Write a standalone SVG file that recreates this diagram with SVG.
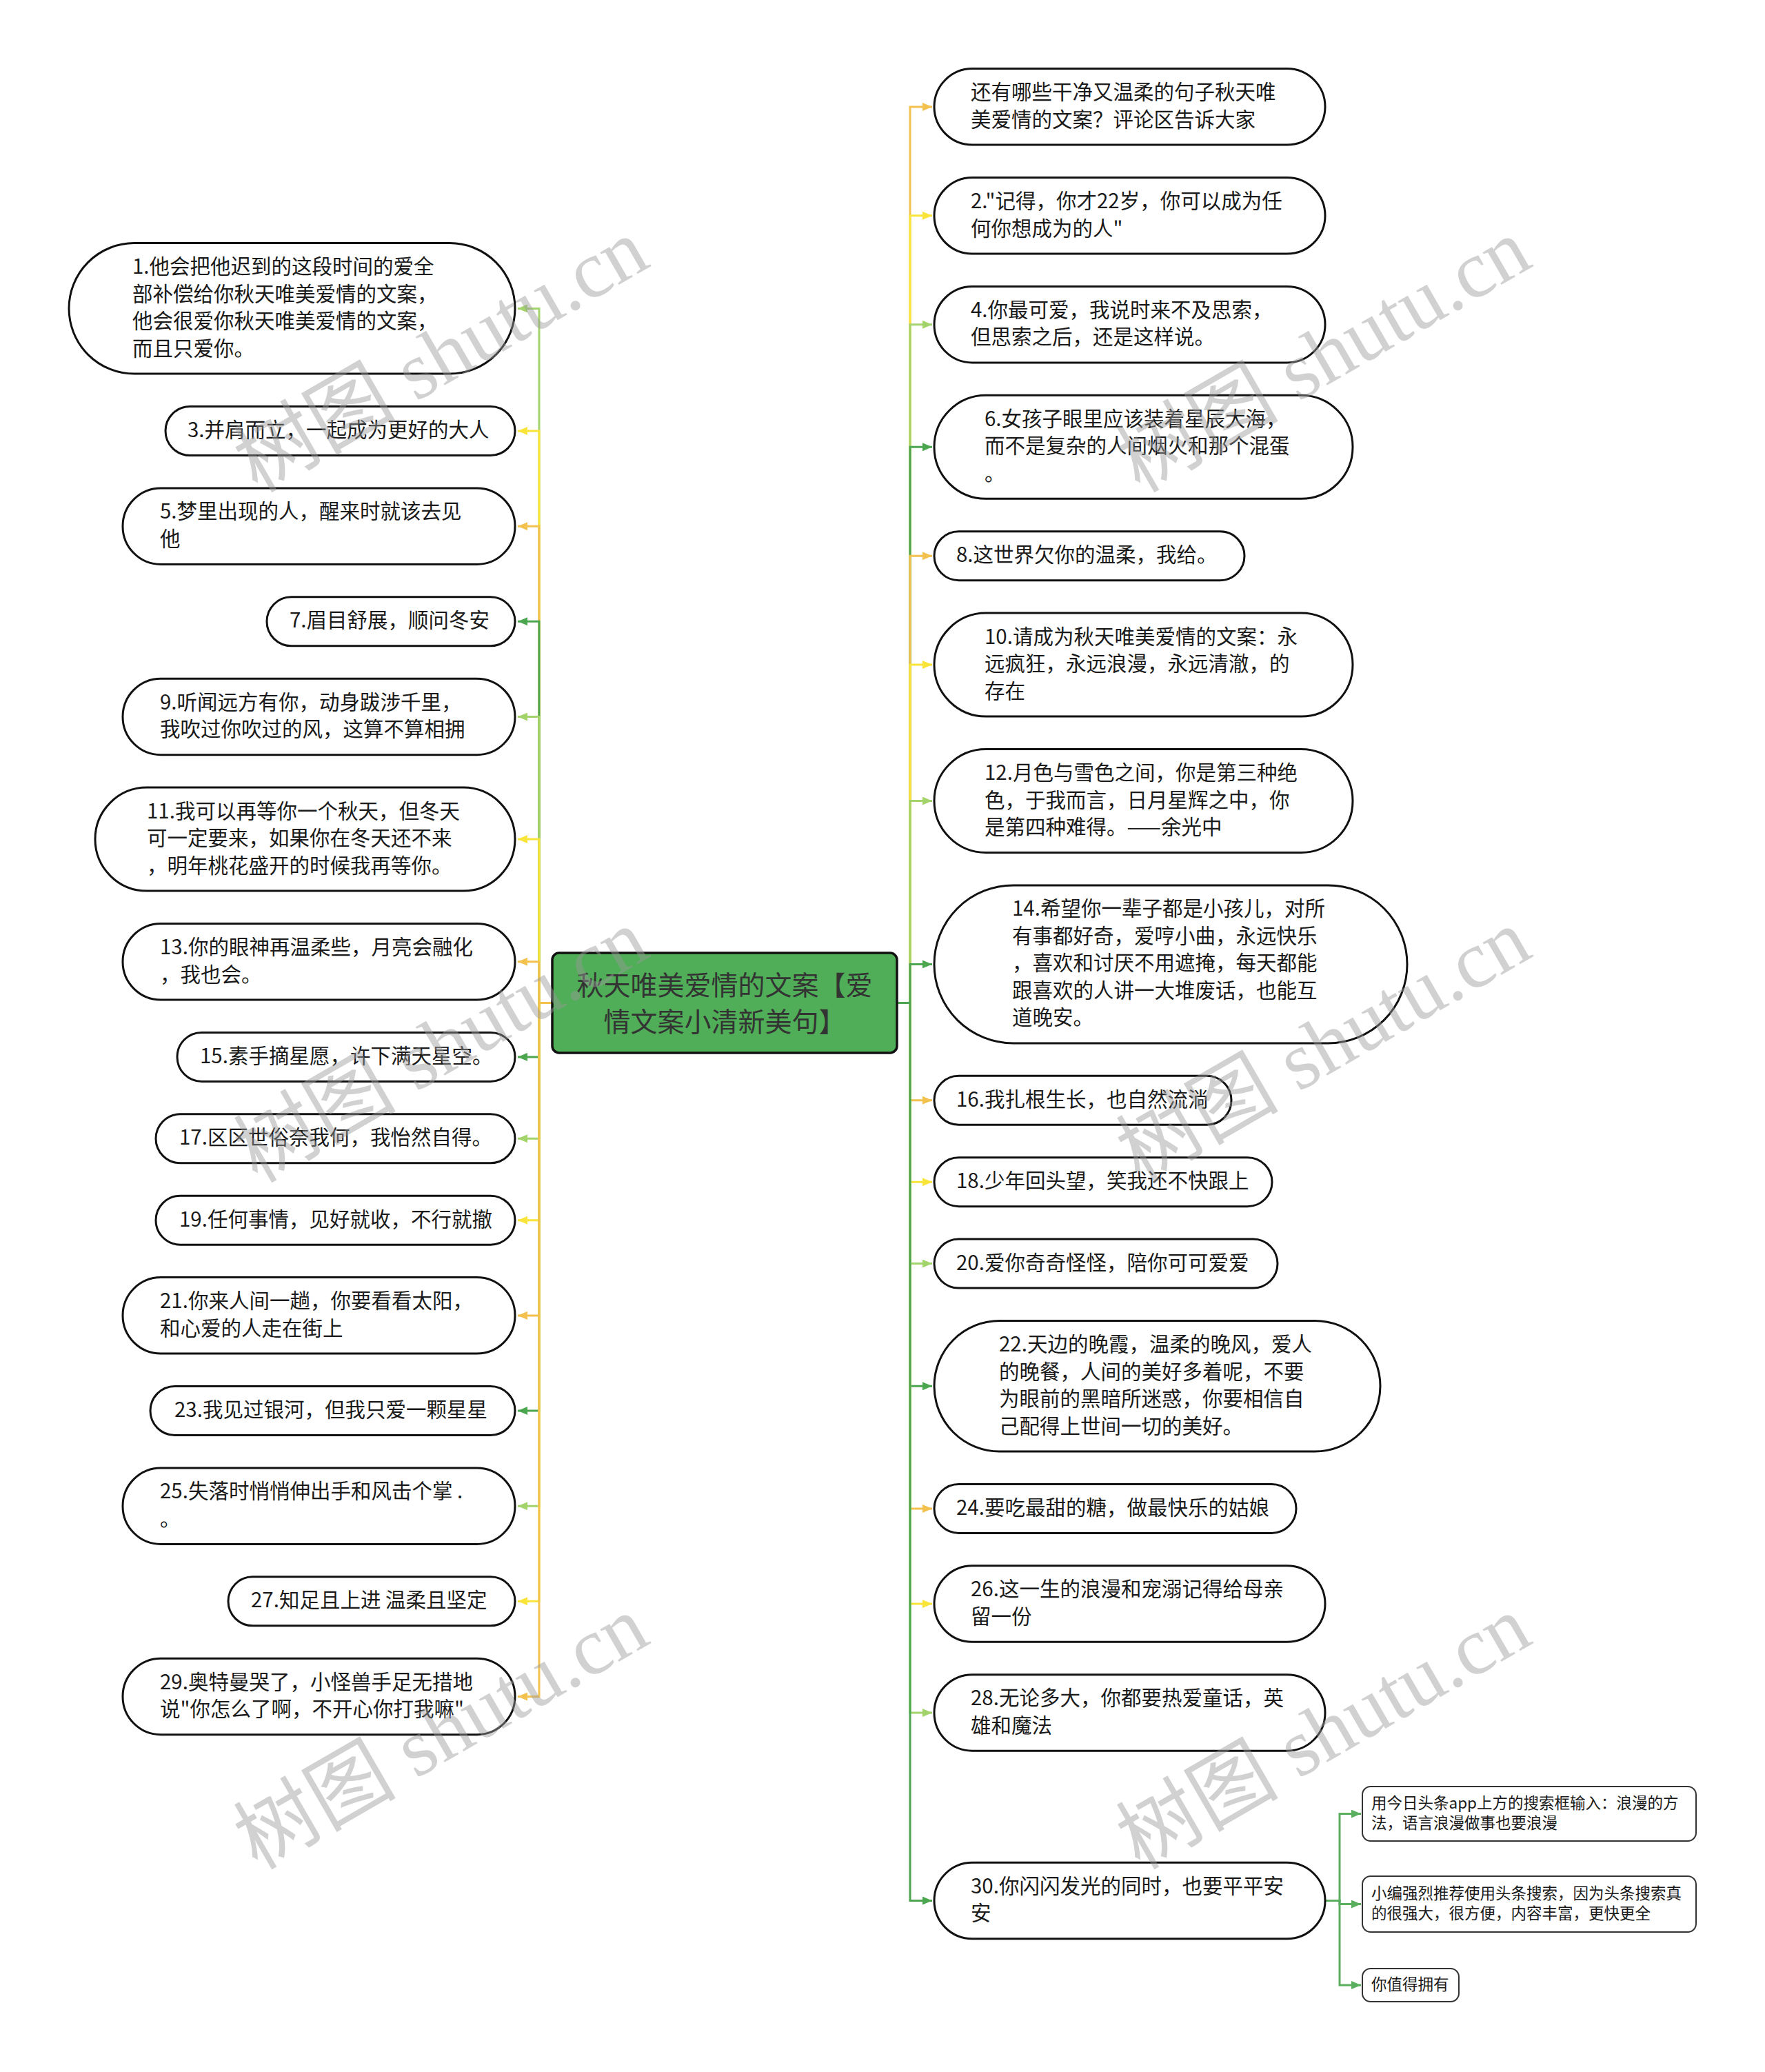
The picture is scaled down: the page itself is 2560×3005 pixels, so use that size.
<svg xmlns="http://www.w3.org/2000/svg" width="2560" height="3005" viewBox="0 0 2560 3005">
<defs>
<style>
.n{fill:#fff;stroke:#111;stroke-width:3}
.t{font-family:"Noto Sans CJK SC","Noto Sans",sans-serif;font-size:29.5px;fill:#1a1a1a;dominant-baseline:central}
.rr{fill:#4fae57;stroke:#111;stroke-width:3.5}
.rt{font-family:"Noto Sans CJK SC","Noto Sans",sans-serif;font-size:39px;fill:#333;text-anchor:middle;dominant-baseline:central}
.sn{fill:#fff;stroke:#333;stroke-width:2}
.st{font-family:"Noto Sans CJK SC","Noto Sans",sans-serif;font-size:22.5px;fill:#1a1a1a;dominant-baseline:central}
.c path{fill:none;stroke-width:3}
.lg{stroke:#a3d36b}.yw{stroke:#f9e43a}.og{stroke:#f2c14e}.dg{stroke:#4ca64f}.sg{stroke:#5aaf5e}
.wm{font-family:"Liberation Serif","Noto Sans CJK SC",serif;font-size:118px;fill:#9a9a9a;opacity:0.45;text-anchor:middle;dominant-baseline:central}
</style>
<marker id="a-lg" markerUnits="userSpaceOnUse" markerWidth="14" markerHeight="12" refX="14" refY="6" orient="auto"><path d="M0,0 L14,6 L0,12 z" fill="#a3d36b"/></marker>
<marker id="a-yw" markerUnits="userSpaceOnUse" markerWidth="14" markerHeight="12" refX="14" refY="6" orient="auto"><path d="M0,0 L14,6 L0,12 z" fill="#f9e43a"/></marker>
<marker id="a-og" markerUnits="userSpaceOnUse" markerWidth="14" markerHeight="12" refX="14" refY="6" orient="auto"><path d="M0,0 L14,6 L0,12 z" fill="#f2c14e"/></marker>
<marker id="a-dg" markerUnits="userSpaceOnUse" markerWidth="14" markerHeight="12" refX="14" refY="6" orient="auto"><path d="M0,0 L14,6 L0,12 z" fill="#4ca64f"/></marker>
<marker id="a-sg" markerUnits="userSpaceOnUse" markerWidth="14" markerHeight="12" refX="14" refY="6" orient="auto"><path d="M0,0 L14,6 L0,12 z" fill="#5aaf5e"/></marker>
</defs>
<rect width="2560" height="3005" fill="#fff"/>
<g id="connectors" class="c">
<path class="lg" marker-end="url(#a-lg)" d="M801,1454.5 H782 V447.4 H751"/>
<path class="yw" marker-end="url(#a-yw)" d="M801,1454.5 H782 V625 H751"/>
<path class="og" marker-end="url(#a-og)" d="M801,1454.5 H782 V763.2 H751"/>
<path class="dg" marker-end="url(#a-dg)" d="M801,1454.5 H782 V901.3 H751"/>
<path class="lg" marker-end="url(#a-lg)" d="M801,1454.5 H782 V1039.5 H751"/>
<path class="yw" marker-end="url(#a-yw)" d="M801,1454.5 H782 V1217.1 H751"/>
<path class="og" marker-end="url(#a-og)" d="M801,1454.5 H782 V1394.8 H751"/>
<path class="dg" marker-end="url(#a-dg)" d="M801,1454.5 H782 V1532.9 H751"/>
<path class="lg" marker-end="url(#a-lg)" d="M801,1454.5 H782 V1651.3 H751"/>
<path class="yw" marker-end="url(#a-yw)" d="M801,1454.5 H782 V1769.7 H751"/>
<path class="og" marker-end="url(#a-og)" d="M801,1454.5 H782 V1907.9 H751"/>
<path class="dg" marker-end="url(#a-dg)" d="M801,1454.5 H782 V2046 H751"/>
<path class="lg" marker-end="url(#a-lg)" d="M801,1454.5 H782 V2184.2 H751"/>
<path class="yw" marker-end="url(#a-yw)" d="M801,1454.5 H782 V2322.3 H751"/>
<path class="og" marker-end="url(#a-og)" d="M801,1454.5 H782 V2460.5 H751"/>
<path class="og" marker-end="url(#a-og)" d="M1301,1454.5 H1320 V154.9 H1352"/>
<path class="yw" marker-end="url(#a-yw)" d="M1301,1454.5 H1320 V312.8 H1352"/>
<path class="lg" marker-end="url(#a-lg)" d="M1301,1454.5 H1320 V470.7 H1352"/>
<path class="dg" marker-end="url(#a-dg)" d="M1301,1454.5 H1320 V648.3 H1352"/>
<path class="og" marker-end="url(#a-og)" d="M1301,1454.5 H1320 V806.2 H1352"/>
<path class="yw" marker-end="url(#a-yw)" d="M1301,1454.5 H1320 V964.1 H1352"/>
<path class="lg" marker-end="url(#a-lg)" d="M1301,1454.5 H1320 V1161.5 H1352"/>
<path class="dg" marker-end="url(#a-dg)" d="M1301,1454.5 H1320 V1398.4 H1352"/>
<path class="og" marker-end="url(#a-og)" d="M1301,1454.5 H1320 V1595.8 H1352"/>
<path class="yw" marker-end="url(#a-yw)" d="M1301,1454.5 H1320 V1714.2 H1352"/>
<path class="lg" marker-end="url(#a-lg)" d="M1301,1454.5 H1320 V1832.6 H1352"/>
<path class="dg" marker-end="url(#a-dg)" d="M1301,1454.5 H1320 V2010.3 H1352"/>
<path class="og" marker-end="url(#a-og)" d="M1301,1454.5 H1320 V2187.9 H1352"/>
<path class="yw" marker-end="url(#a-yw)" d="M1301,1454.5 H1320 V2326.1 H1352"/>
<path class="lg" marker-end="url(#a-lg)" d="M1301,1454.5 H1320 V2484 H1352"/>
<path class="dg" marker-end="url(#a-dg)" d="M1301,1454.5 H1320 V2756.5 H1352"/>
<path class="sg" marker-end="url(#a-sg)" d="M1922,2756.5 H1943 V2630.5 H1974"/>
<path class="sg" marker-end="url(#a-sg)" d="M1922,2756.5 H1943 V2761.5 H1974"/>
<path class="sg" marker-end="url(#a-sg)" d="M1922,2756.5 H1943 V2879 H1974"/>
</g>
<g id="root"><rect class="rr" x="801" y="1382" width="500" height="145" rx="10"/><text class="rt" x="1051" y="1425.5">秋天唯美爱情的文案【爱</text><text class="rt" x="1051" y="1478.5">情文案小清新美句】</text></g>
<g id="n1"><rect class="n" x="100" y="352.6" width="647" height="189.5" rx="94.75"/><text class="t"><tspan x="192" y="384.1">1.他会把他迟到的这段时间的爱全</tspan><tspan x="192" y="423.6">部补偿给你秋天唯美爱情的文案，</tspan><tspan x="192" y="463.1">他会很爱你秋天唯美爱情的文案，</tspan><tspan x="192" y="502.6">而且只爱你。</tspan></text></g>
<g id="n3"><rect class="n" x="240" y="589.5" width="507" height="71" rx="35.5"/><text class="t" x="272" y="621">3.并肩而立，一起成为更好的大人</text></g>
<g id="n5"><rect class="n" x="178" y="707.9" width="569" height="110.5" rx="55.25"/><text class="t"><tspan x="232" y="739.4">5.梦里出现的人，醒来时就该去见</tspan><tspan x="232" y="778.9">他</tspan></text></g>
<g id="n7"><rect class="n" x="387" y="865.8" width="360" height="71" rx="35.5"/><text class="t" x="420" y="897.3">7.眉目舒展，顺问冬安</text></g>
<g id="n9"><rect class="n" x="178" y="984.2" width="569" height="110.5" rx="55.25"/><text class="t"><tspan x="232" y="1015.7">9.听闻远方有你，动身跋涉千里，</tspan><tspan x="232" y="1055.2">我吹过你吹过的风，这算不算相拥</tspan></text></g>
<g id="n11"><rect class="n" x="138" y="1142.1" width="609" height="150" rx="75"/><text class="t"><tspan x="213" y="1173.6">11.我可以再等你一个秋天，但冬天</tspan><tspan x="213" y="1213.1">可一定要来，如果你在冬天还不来</tspan><tspan x="213" y="1252.6">，明年桃花盛开的时候我再等你。</tspan></text></g>
<g id="n13"><rect class="n" x="178" y="1339.5" width="569" height="110.5" rx="55.25"/><text class="t"><tspan x="232" y="1371">13.你的眼神再温柔些，月亮会融化</tspan><tspan x="232" y="1410.5">，我也会。</tspan></text></g>
<g id="n15"><rect class="n" x="257" y="1497.4" width="490" height="71" rx="35.5"/><text class="t" x="290" y="1528.9">15.素手摘星愿，许下满天星空。</text></g>
<g id="n17"><rect class="n" x="226" y="1615.8" width="521" height="71" rx="35.5"/><text class="t" x="260" y="1647.3">17.区区世俗奈我何，我怡然自得。</text></g>
<g id="n19"><rect class="n" x="226" y="1734.2" width="521" height="71" rx="35.5"/><text class="t" x="260" y="1765.7">19.任何事情，见好就收，不行就撤</text></g>
<g id="n21"><rect class="n" x="178" y="1852.6" width="569" height="110.5" rx="55.25"/><text class="t"><tspan x="232" y="1884.1">21.你来人间一趟，你要看看太阳，</tspan><tspan x="232" y="1923.6">和心爱的人走在街上</tspan></text></g>
<g id="n23"><rect class="n" x="218" y="2010.5" width="529" height="71" rx="35.5"/><text class="t" x="253" y="2042">23.我见过银河，但我只爱一颗星星</text></g>
<g id="n25"><rect class="n" x="178" y="2128.9" width="569" height="110.5" rx="55.25"/><text class="t"><tspan x="232" y="2160.4">25.失落时悄悄伸出手和风击个掌 .</tspan><tspan x="232" y="2199.9">。</tspan></text></g>
<g id="n27"><rect class="n" x="331" y="2286.8" width="416" height="71" rx="35.5"/><text class="t" x="364" y="2318.3">27.知足且上进 温柔且坚定</text></g>
<g id="n29"><rect class="n" x="178" y="2405.2" width="569" height="110.5" rx="55.25"/><text class="t"><tspan x="232" y="2436.7">29.奥特曼哭了，小怪兽手足无措地</tspan><tspan x="232" y="2476.2">说"你怎么了啊，不开心你打我嘛"</tspan></text></g>
<g id="n0"><rect class="n" x="1355" y="99.6" width="567" height="110.5" rx="55.25"/><text class="t"><tspan x="1408" y="131.1">还有哪些干净又温柔的句子秋天唯</tspan><tspan x="1408" y="170.6">美爱情的文案？评论区告诉大家</tspan></text></g>
<g id="n2"><rect class="n" x="1355" y="257.5" width="567" height="110.5" rx="55.25"/><text class="t"><tspan x="1408" y="289">2."记得，你才22岁，你可以成为任</tspan><tspan x="1408" y="328.5">何你想成为的人"</tspan></text></g>
<g id="n4"><rect class="n" x="1355" y="415.4" width="567" height="110.5" rx="55.25"/><text class="t"><tspan x="1408" y="446.9">4.你最可爱，我说时来不及思索，</tspan><tspan x="1408" y="486.4">但思索之后，还是这样说。</tspan></text></g>
<g id="n6"><rect class="n" x="1355" y="573.3" width="607" height="150" rx="75"/><text class="t"><tspan x="1428" y="604.8">6.女孩子眼里应该装着星辰大海，</tspan><tspan x="1428" y="644.3">而不是复杂的人间烟火和那个混蛋</tspan><tspan x="1428" y="683.8">。</tspan></text></g>
<g id="n8"><rect class="n" x="1355" y="770.7" width="450" height="71" rx="35.5"/><text class="t" x="1387" y="802.2">8.这世界欠你的温柔，我给。</text></g>
<g id="n10"><rect class="n" x="1355" y="889.1" width="607" height="150" rx="75"/><text class="t"><tspan x="1428" y="920.6">10.请成为秋天唯美爱情的文案：永</tspan><tspan x="1428" y="960.1">远疯狂，永远浪漫，永远清澈，的</tspan><tspan x="1428" y="999.6">存在</tspan></text></g>
<g id="n12"><rect class="n" x="1355" y="1086.5" width="607" height="150" rx="75"/><text class="t"><tspan x="1428" y="1118">12.月色与雪色之间，你是第三种绝</tspan><tspan x="1428" y="1157.5">色，于我而言，日月星辉之中，你</tspan><tspan x="1428" y="1197">是第四种难得。——余光中</tspan></text></g>
<g id="n14"><rect class="n" x="1355" y="1283.9" width="686" height="229" rx="114.5"/><text class="t"><tspan x="1468" y="1315.4">14.希望你一辈子都是小孩儿，对所</tspan><tspan x="1468" y="1354.9">有事都好奇，爱哼小曲，永远快乐</tspan><tspan x="1468" y="1394.4">，喜欢和讨厌不用遮掩，每天都能</tspan><tspan x="1468" y="1433.9">跟喜欢的人讲一大堆废话，也能互</tspan><tspan x="1468" y="1473.4">道晚安。</tspan></text></g>
<g id="n16"><rect class="n" x="1355" y="1560.3" width="431" height="71" rx="35.5"/><text class="t" x="1387" y="1591.8">16.我扎根生长，也自然流淌</text></g>
<g id="n18"><rect class="n" x="1355" y="1678.7" width="490" height="71" rx="35.5"/><text class="t" x="1387" y="1710.2">18.少年回头望，笑我还不快跟上</text></g>
<g id="n20"><rect class="n" x="1355" y="1797.1" width="498" height="71" rx="35.5"/><text class="t" x="1387" y="1828.6">20.爱你奇奇怪怪，陪你可可爱爱</text></g>
<g id="n22"><rect class="n" x="1355" y="1915.5" width="647" height="189.5" rx="94.75"/><text class="t"><tspan x="1449" y="1947">22.天边的晚霞，温柔的晚风，爱人</tspan><tspan x="1449" y="1986.5">的晚餐，人间的美好多着呢，不要</tspan><tspan x="1449" y="2026">为眼前的黑暗所迷惑，你要相信自</tspan><tspan x="1449" y="2065.5">己配得上世间一切的美好。</tspan></text></g>
<g id="n24"><rect class="n" x="1355" y="2152.4" width="525" height="71" rx="35.5"/><text class="t" x="1387" y="2183.9">24.要吃最甜的糖，做最快乐的姑娘</text></g>
<g id="n26"><rect class="n" x="1355" y="2270.8" width="567" height="110.5" rx="55.25"/><text class="t"><tspan x="1408" y="2302.3">26.这一生的浪漫和宠溺记得给母亲</tspan><tspan x="1408" y="2341.8">留一份</tspan></text></g>
<g id="n28"><rect class="n" x="1355" y="2428.7" width="567" height="110.5" rx="55.25"/><text class="t"><tspan x="1408" y="2460.2">28.无论多大，你都要热爱童话，英</tspan><tspan x="1408" y="2499.7">雄和魔法</tspan></text></g>
<g id="n30"><rect class="n" x="1355" y="2701.3" width="567" height="110.5" rx="55.25"/><text class="t"><tspan x="1408" y="2732.8">30.你闪闪发光的同时，也要平平安</tspan><tspan x="1408" y="2772.3">安</tspan></text></g>
<g id="s1"><rect class="sn" x="1976" y="2591" width="484" height="79" rx="12"/><text class="st"><tspan x="1989" y="2613">用今日头条app上方的搜索框输入：浪漫的方</tspan><tspan x="1989" y="2642">法，语言浪漫做事也要浪漫</tspan></text></g>
<g id="s2"><rect class="sn" x="1976" y="2721" width="484" height="81" rx="12"/><text class="st"><tspan x="1989" y="2744">小编强烈推荐使用头条搜索，因为头条搜索真</tspan><tspan x="1989" y="2773">的很强大，很方便，内容丰富，更快更全</tspan></text></g>
<g id="s3"><rect class="sn" x="1976" y="2855" width="140" height="48" rx="12"/><text class="st" x="1989" y="2876">你值得拥有</text></g>
<g id="watermarks">
<text class="wm" transform="translate(640,516) rotate(-30)">树图 shutu.cn</text>
<text class="wm" transform="translate(1920,516) rotate(-30)">树图 shutu.cn</text>
<text class="wm" transform="translate(640,1517) rotate(-30)">树图 shutu.cn</text>
<text class="wm" transform="translate(1920,1517) rotate(-30)">树图 shutu.cn</text>
<text class="wm" transform="translate(640,2513) rotate(-30)">树图 shutu.cn</text>
<text class="wm" transform="translate(1920,2513) rotate(-30)">树图 shutu.cn</text>
</g>
</svg>
